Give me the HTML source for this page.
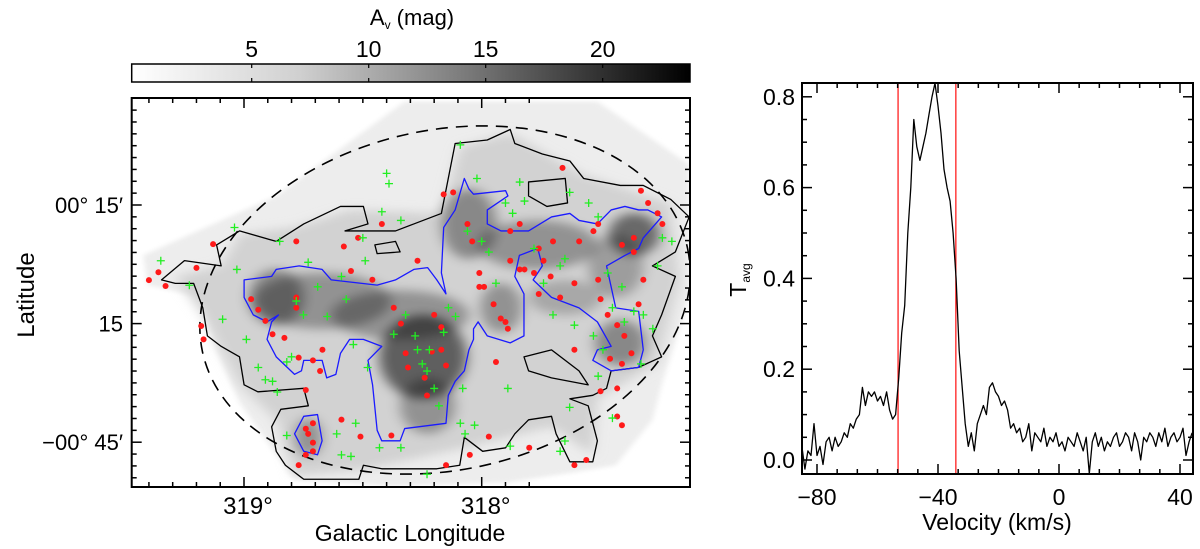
<!DOCTYPE html>
<html><head><meta charset="utf-8">
<style>
html,body{margin:0;padding:0;background:#fff;}
svg{display:block;font-family:"Liberation Sans",Arial,sans-serif;}
</style></head>
<body>
<svg id="fig" width="1200" height="549" viewBox="0 0 1200 549" xmlns="http://www.w3.org/2000/svg">
<defs>
  <linearGradient id="cbg" x1="0" x2="1" y1="0" y2="0">
    <stop offset="0" stop-color="#ffffff"/><stop offset="0.3" stop-color="#d0d0d0"/><stop offset="0.6" stop-color="#7a7a7a"/><stop offset="1" stop-color="#000000"/>
  </linearGradient>
  <clipPath id="mapclip"><rect x="131.7" y="98" width="558.3" height="389"/></clipPath>
  <clipPath id="specclip"><rect x="802" y="83" width="391" height="391"/></clipPath>
  <filter id="blur" x="-50%" y="-50%" width="200%" height="200%"><feGaussianBlur stdDeviation="14"/></filter>
  <filter id="blur2" x="-20%" y="-20%" width="140%" height="140%"><feGaussianBlur stdDeviation="6"/></filter>
</defs>

<!-- Colorbar -->
<g>
  <rect x="131.7" y="64" width="558.3" height="18" fill="url(#cbg)" stroke="#000" stroke-width="1.5"/>
  <g id="cbticks"></g>
  <text x="412" y="25" font-size="22" text-anchor="middle">A<tspan font-size="12" dy="4">v</tspan><tspan dy="-4"> (mag)</tspan></text>
</g>

<!-- Map -->
<g>
  <g clip-path="url(#mapclip)">
    <g transform="translate(131.7,98) scale(0.4588,0.3498) translate(-285,-280)">
      <polygon points="310,730 600,560 880,290 1300,290 1500,470 1500,850 1440,1100 1420,1200 1340,1330 1250,1350 1100,1380 850,1390 640,1370 600,1300 520,1150 470,1000 440,850 320,815" fill="#ededed" filter="url(#blur2)"/>
      <polygon points="380,790 480,760 520,670 640,650 760,600 960,610 1000,420 1110,380 1270,500 1460,580 1480,800 1430,1040 1300,1140 1290,1300 1200,1220 1010,1280 800,1340 640,1360 600,1200 520,1100 440,900" fill="#d2d2d2" filter="url(#blur)"/>
      <g filter="url(#blur)" fill="#000">
        <ellipse cx="920" cy="1020" rx="95" ry="120" opacity="0.55"/>
        <ellipse cx="870" cy="900" rx="150" ry="70" opacity="0.3"/>
        <ellipse cx="700" cy="860" rx="150" ry="80" opacity="0.3"/>
        <ellipse cx="600" cy="850" rx="60" ry="80" opacity="0.35"/>
        <ellipse cx="1020" cy="640" rx="60" ry="100" opacity="0.35"/>
        <ellipse cx="1170" cy="700" rx="130" ry="70" opacity="0.3"/>
        <ellipse cx="1380" cy="670" rx="55" ry="60" opacity="0.5"/>
        <ellipse cx="1340" cy="760" rx="60" ry="90" opacity="0.25"/>
        <ellipse cx="1350" cy="980" rx="55" ry="65" opacity="0.35"/>
        <ellipse cx="1090" cy="880" rx="45" ry="70" opacity="0.3"/>
        <ellipse cx="930" cy="1160" rx="60" ry="80" opacity="0.3"/>
        <ellipse cx="670" cy="1250" rx="30" ry="55" opacity="0.3"/>
        <ellipse cx="1230" cy="850" rx="80" ry="50" opacity="0.2"/>
      </g>
      <path d="M350,800 L400,745 L480,760 L470,700 L520,660 L600,690 L660,640 L740,590 L790,590 L800,640 L750,660 L860,660 L900,640 L960,610 L990,410 L1060,400 L1110,370 L1120,410 L1180,440 L1240,460 L1270,510 L1350,530 L1400,530 L1460,570 L1500,620 L1470,720 L1420,760 L1470,790 L1440,900 L1420,960 L1440,1020 L1390,1050 L1330,1060 L1320,1110 L1290,1130 L1240,1140 L1280,1160 L1300,1260 L1290,1320 L1240,1320 L1210,1240 L1200,1190 L1150,1200 L1120,1240 L1100,1280 L1050,1290 L1010,1250 L1000,1330 L950,1340 L900,1340 L830,1340 L790,1330 L780,1370 L660,1370 L620,1330 L600,1290 L590,1220 L610,1170 L670,1160 L660,1110 L560,1120 L530,1100 L520,1020 L480,990 L450,960 L440,880 L420,810 L380,810 Z M1140,1020 L1200,1000 L1260,1060 L1280,1100 L1200,1080 L1150,1060 Z M1150,520 L1230,510 L1235,580 L1190,590 L1150,560 Z M815,700 L860,690 L870,720 L820,725 Z" fill="none" stroke="#000" stroke-width="1.3" vector-effect="non-scaling-stroke" stroke-linejoin="round"/>
      <path d="M530,800 L590,790 L600,770 L650,760 L700,770 L720,800 L820,815 L860,800 L900,770 L930,765 L950,800 L970,840 L960,780 L965,650 L990,600 L1010,510 L1020,540 L1030,555 L1100,545 L1105,560 L1060,600 L1060,640 L1090,660 L1150,660 L1200,620 L1240,610 L1260,630 L1300,640 L1330,600 L1360,590 L1390,600 L1410,600 L1440,620 L1420,650 L1400,680 L1390,710 L1360,730 L1320,760 L1330,820 L1340,880 L1390,890 L1400,1000 L1390,1050 L1330,1060 L1290,1030 L1300,1000 L1330,990 L1300,920 L1260,880 L1200,850 L1160,800 L1180,760 L1170,710 L1130,730 L1120,790 L1140,840 L1140,960 L1110,980 L1060,960 L1040,920 L1030,940 L1030,970 L1020,1000 L1010,1060 L990,1090 L975,1130 L970,1210 L880,1225 L870,1260 L830,1260 L820,1230 L810,1100 L800,1030 L830,990 L790,970 L760,970 L740,1010 L730,1070 L710,1080 L700,1030 L660,1030 L655,1060 L640,1070 L600,1020 L580,970 L590,920 L605,900 L580,920 L550,900 L530,850 Z M660,1190 L690,1185 L700,1260 L690,1300 L660,1290 L640,1240 Z" fill="none" stroke="#1a1aff" stroke-width="1.3" vector-effect="non-scaling-stroke" stroke-linejoin="round"/>
    </g>
    <ellipse cx="445" cy="300" rx="248" ry="170" transform="rotate(-12 445 300)" fill="none" stroke="#000" stroke-width="1.6" stroke-dasharray="12,8"/>
    <g id="pts"></g>
  </g>
  <rect x="131.7" y="98" width="558.3" height="389" fill="none" stroke="#000" stroke-width="2"/>
  <g id="mapticks"></g>
  <text x="410" y="541" font-size="23" text-anchor="middle">Galactic Longitude</text>
  <text x="34" y="295" font-size="24" text-anchor="middle" transform="rotate(-90 34 295)">Latitude</text>
</g>

<!-- Spectrum -->
<g>
  <g clip-path="url(#specclip)"><g id="spec"></g></g>
  <rect x="802" y="83" width="391" height="391" fill="none" stroke="#000" stroke-width="2"/>
  <g id="specticks"></g>
  <text x="997" y="530" font-size="23" text-anchor="middle">Velocity (km/s)</text>
  <text x="746" y="280" font-size="23" text-anchor="middle" transform="rotate(-90 746 280)">T<tspan font-size="12" dy="4">avg</tspan></text>
</g>
</svg>
<script>
// ---- data ----
const redLon=[319.40,319.36,319.33,319.13,319.20,319.18,319.17,318.97,318.94,318.91,318.88,318.83,318.78,318.78,318.78,318.77,318.74,318.71,318.67,318.68,318.58,318.52,318.55,318.46,318.42,318.37,318.34,318.32,318.31,318.27,318.24,318.23,318.21,318.20,318.17,318.15,318.16,318.12,318.06,318.04,318.01,317.99,317.95,317.92,317.89,317.88,317.84,317.82,317.78,317.76,317.71,317.74,317.70,317.67,317.66,317.61,317.59,317.53,317.51,317.50,317.47,317.46,317.43,317.41,317.40,317.36,317.33,317.30,317.26,317.24,317.34,317.37,317.41,317.43,317.50,317.61,317.56,317.80,318.05,317.97,318.15,318.38,318.51,318.59,318.77,318.74,318.71,318.71,318.73,318.71,318.74,317.43,317.41,317.94,318.17,317.90,317.76,317.61,317.36,317.51,317.32,317.88,318.01,317.84];
const redLat=[-4,-2,-5.5,5.1,-0.9,-15.6,-19,-8.8,-11.5,-14.3,-17.7,-18.6,5.8,-8.4,-11,-23.6,-31.8,-24.3,-21.6,-27,4.5,6.7,-1.7,-3.9,10.2,-11,-15,-22.5,-26.1,0.9,-28.7,-33.2,-22.1,-12.8,-21.6,-25.6,17.7,18.2,10.2,5.8,-2.2,-5.7,-10.1,-13.7,-16.3,8.4,10.2,-1.3,-2.2,4,-3.1,0.9,5.8,-8.4,24.4,-4.8,5.8,8.4,-3.9,-8.8,-12.8,-23.9,-15.4,4.9,-18.1,6.7,18.6,15.5,12.9,10.2,-10.1,-22.5,-25.2,-31.4,-32.1,-50.8,-49.5,-46.4,-48.2,-43.6,-50.8,-43.3,-43.6,-39.3,-50.8,-48.2,-47.3,-45.1,-42.9,-40.2,-41.6,-38.5,-40.7,-24.7,-15.9,-14.6,-7.5,-21.6,3.1,10.2,-3.9,0.9,-5.7,-1.3];
const grnLon=[319.35,319.23,319.09,319.04,319.03,318.99,318.94,318.91,318.85,318.82,318.80,318.78,318.75,318.73,318.69,318.65,318.59,318.57,318.54,318.50,318.49,318.48,318.42,318.40,318.39,318.37,318.34,318.32,318.28,318.27,318.25,318.23,318.22,318.20,318.18,318.16,318.14,318.11,318.09,318.07,318.03,318.06,318.00,317.97,317.94,317.90,317.87,317.84,317.82,317.78,317.74,317.70,317.67,317.65,317.63,317.61,317.55,317.53,317.49,317.51,317.47,317.45,317.41,317.40,317.36,317.32,317.28,317.24,317.20,317.26,317.33,317.51,317.45,317.63,317.65,317.67,317.89,317.88,318.23,318.34,318.43,318.55,318.59,318.61,318.53,318.82,318.86,318.88,318.08,318.09,318.02];
const grnLat=[0.9,-5.3,-13.9,9.3,-1.3,-19,-26.1,-29.2,5.8,-24.7,-23.4,-9.3,-12.8,0.5,-5.7,-13.2,-3.1,-8.8,-20.3,6.7,0.9,-26.1,13.3,23,20.4,-17.7,11.1,-12.8,-18.1,-21.6,-25.2,-27,-21.6,-31.4,-35.8,-17.2,-11,-13.2,-40.2,-42.9,-40.7,8.4,5.8,3.1,-4.8,15.5,12.9,20.8,16,4,-4.8,-12.8,-0.4,1.4,18.2,-15.4,15.5,-18.1,-21.6,12,-2.2,-11,-5.7,-14.6,-11.9,-12.8,-16.3,6.7,5.8,-0.4,-25.2,-28.3,-38.9,-36.2,-44.7,-47.3,-31.4,-46,-53.1,-46.4,-46.4,-48.6,-48.2,-42.9,-40.2,-43.3,-32.3,-29.6,-31.4,30.2,21.7];
const lonTicks=[319,318];
const lonLabels=["319°","318°"];
const latTicks=[15,-15,-45];
const latLabels=["00° 15′","15","−00° 45′"];
const cbTicks=[5,10,15,20];
const velocity=[];for(let v=-85;v<=44;v++)velocity.push(v);
const tavg=[0.03,-0.02,0.02,0.01,0.08,0.01,0.03,-0.01,0.04,0.05,
0.02,0.05,0.03,0.04,0.06,0.05,0.08,0.07,0.09,0.10,
0.16,0.12,0.15,0.14,0.15,0.13,0.14,0.12,0.15,0.11,
0.09,0.10,0.18,0.28,0.34,0.50,0.60,0.75,0.69,0.66,
0.69,0.72,0.76,0.80,0.83,0.78,0.72,0.64,0.60,0.57,
0.50,0.40,0.24,0.16,0.08,0.03,0.06,0.02,0.08,0.10,
0.12,0.10,0.16,0.17,0.15,0.14,0.12,0.13,0.11,0.07,
0.08,0.06,0.07,0.04,0.05,0.08,0.02,0.06,0.05,0.04,
0.07,0.03,0.05,0.04,0.06,0.03,0.04,0.02,0.05,0.04,
0.03,0.06,0.04,0.02,0.05,-0.03,0.04,0.06,0.03,0.05,
0.02,0.04,0.03,0.05,0.06,0.03,0.04,0.06,0.05,0.02,
0.06,0.04,0.00,0.05,0.04,0.06,0.05,0.03,0.06,0.04,
0.07,0.03,0.05,0.06,0.04,0.05,0.07,0.01,0.04,0.06];
const velTicks=[-80,-40,0,40];
const tTicks=[0,0.2,0.4,0.6,0.8];
const tTickLabels=["0.0","0.2","0.4","0.6","0.8"];
const vBounds=[-53.2,-34.1];

// ---- axes ----
const NS="http://www.w3.org/2000/svg";
function mk(tag,attrs,parent){const e=document.createElementNS(NS,tag);for(const k in attrs)e.setAttribute(k,attrs[k]);parent.appendChild(e);return e;}
const xMap=lon=>244+(319-lon)*237.7;
const yMap=lat=>205-(lat-15)*118.6/30;
const xCb=v=>251.7+(v-5)*23.4;
const xSp=v=>817+(v+80)*3.025;
const ySp=t=>460-t*454;

const cbt=document.getElementById('cbticks');
cbTicks.forEach(v=>{
  const x=xCb(v);
  const t1=mk('line',{x1:x,x2:x,y1:64,y2:68,stroke:'#000','stroke-width':1.2},cbt);
  
  
  const t2=mk('line',{x1:x,x2:x,y1:78,y2:82,stroke:'#000','stroke-width':1.2},cbt);
  
  
  const tx=mk('text',{x:x,y:57,'font-size':23,'text-anchor':'middle'},cbt);
  tx.textContent=v;
  
  
});

const pts=document.getElementById('pts');
redLon.forEach((lon,i)=>{
  const c=mk('circle',{cx:xMap(lon),cy:yMap(redLat[i]),r:3,fill:'#ff1a1a'},pts);
  
  
});
grnLon.forEach((lon,i)=>{
  const x=xMap(lon),y=yMap(grnLat[i]);
  const p=mk('path',{d:`M${x-4},${y}H${x+4}M${x},${y-4}V${y+4}`,stroke:'#22ee22','stroke-width':1.3,fill:'none'},pts);
  
  
});

const mt=document.getElementById('mapticks');
for(let k=-5;k<=17;k++){
  const lon=319.5-k*0.1; const x=xMap(lon);
  if(x<132||x>690)continue;
  const major=Math.abs(lon-Math.round(lon))<0.01;
  const L=major?10:5;
  mk('line',{x1:x,x2:x,y1:487,y2:487-L,stroke:'#000','stroke-width':1.5},mt);
  mk('line',{x1:x,x2:x,y1:98,y2:98+L,stroke:'#000','stroke-width':1.5},mt);
}
for(let lat=-57;lat<=45;lat+=3){
  const y=yMap(lat); if(y<98||y>487)continue;
  const major=((lat+45)%30===0);
  const L=major?10:5;
  mk('line',{x1:131.7,x2:131.7+L,y1:y,y2:y,stroke:'#000','stroke-width':1.5},mt);
  mk('line',{x1:690,x2:690-L,y1:y,y2:y,stroke:'#000','stroke-width':1.5},mt);
}
lonTicks.forEach((lon,i)=>{
  const t=mk('text',{x:xMap(lon)+4,y:514,'font-size':24,'text-anchor':'middle'},mt);
  t.textContent=lonLabels[i];
  
  
});
latTicks.forEach((lat,i)=>{
  const t=mk('text',{x:123,y:yMap(lat)+8,'font-size':22,'text-anchor':'end'},mt);
  t.textContent=latLabels[i];
  
  
});

const sp=document.getElementById('spec');
vBounds.forEach(v=>{
  const l=mk('line',{x1:xSp(v),x2:xSp(v),y1:83,y2:474,stroke:'#ff2020','stroke-width':1.3},sp);
  
  
});
const d=velocity.map((v,i)=>(i?'L':'M')+xSp(v).toFixed(1)+','+ySp(tavg[i]).toFixed(1)).join('');
const line=mk('path',{d:d,fill:'none',stroke:'#000','stroke-width':1.3,'stroke-linejoin':'round'},sp);



const st=document.getElementById('specticks');
for(let k=-2;k<=20;k++){
  const v=-80+k*40/6; const x=xSp(v); if(x<803||x>1192)continue;
  const major=(k%6===0); const L=major?10:5;
  mk('line',{x1:x,x2:x,y1:474,y2:474-L,stroke:'#000','stroke-width':1.5},st);
  mk('line',{x1:x,x2:x,y1:83,y2:83+L,stroke:'#000','stroke-width':1.5},st);
}
for(let k=0;k<=16;k++){
  const t=k*0.05; const y=ySp(t); if(y<84)continue;
  const major=(k%4===0); const L=major?10:5;
  mk('line',{x1:802,x2:802+L,y1:y,y2:y,stroke:'#000','stroke-width':1.5},st);
  mk('line',{x1:1193,x2:1193-L,y1:y,y2:y,stroke:'#000','stroke-width':1.5},st);
}
velTicks.forEach(v=>{
  const t=mk('text',{x:xSp(v),y:505,'font-size':23,'text-anchor':'middle'},st);
  t.textContent=v<0?'−'+(-v):String(v);
  
  
});
tTicks.forEach((v,i)=>{
  const t=mk('text',{x:795,y:ySp(v)+8,'font-size':23,'text-anchor':'end'},st);
  t.textContent=tTickLabels[i];
  
  
});
</script>
</body></html>
